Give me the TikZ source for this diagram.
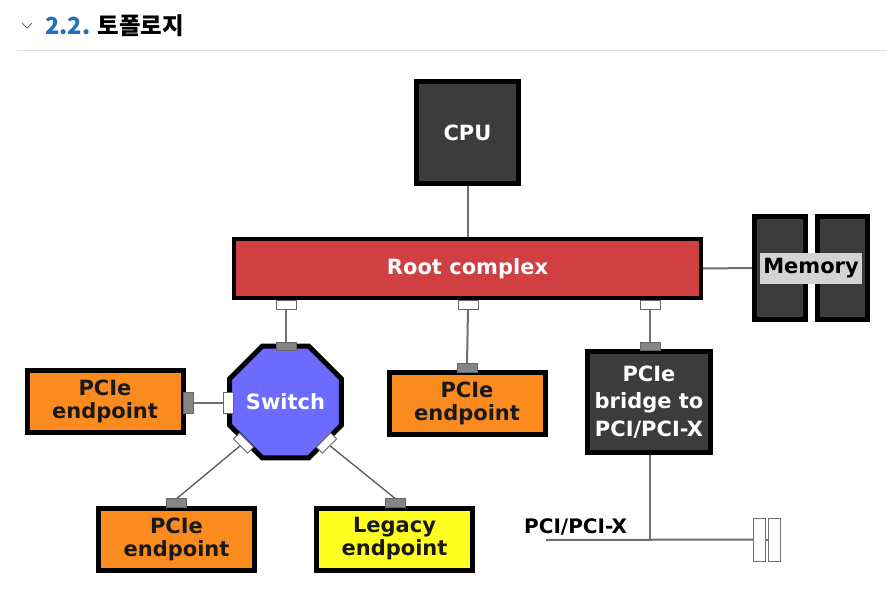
\documentclass[tikz,border=0pt]{standalone}
\usepackage{fontspec}
\setmainfont{DejaVu Sans}
\newfontfamily\kr{Noto Sans CJK KR}
\usetikzlibrary{shapes.geometric,backgrounds}
\definecolor{darkc}{HTML}{3C3C3C}
\definecolor{redc}{HTML}{D04043}
\definecolor{bluec}{HTML}{6B6BFF}
\definecolor{orangec}{HTML}{FB8B1E}
\definecolor{yellowc}{HTML}{FFFF22}
\definecolor{labelgray}{HTML}{D3D3D3}
\definecolor{portgray}{HTML}{858585}
\definecolor{linegray}{HTML}{707070}
\definecolor{titleblue}{HTML}{1F6FC5}
\tikzset{
  boxstyle/.style={draw=black, line width=5pt, inner sep=0pt, align=center,
    font=\bfseries\fontsize{21}{23}\selectfont},
  darkbox/.style={boxstyle, fill=darkc, text=white},
  epbox/.style={boxstyle, fill=orangec, text=black!90, minimum width=156pt, minimum height=62pt},
  portw/.style={draw=black!60, fill=white, line width=0.9pt, minimum width=20pt, minimum height=8.5pt, inner sep=0pt, outer sep=0pt},
  portg/.style={portw, fill=portgray},
  conn/.style={draw=linegray, line width=2pt},
  thinconn/.style={draw=black!65, line width=1.3pt},
}
\begin{document}
\begin{tikzpicture}[x=1pt,y=-1pt]
\useasboundingbox (0,0) rectangle (887,600);
% header
\draw[black!60, line width=1pt] (22,23) -- (27,28) -- (32,23);
\node[anchor=base west, inner sep=0pt, font=\kr\bfseries\fontsize{23.5}{27}\selectfont] (title) at (45,34) {\textcolor{titleblue}{2.2.} 토폴로지};
\draw[black!13, line width=1pt] (17,50) -- (887,50);

% main boxes
\node[darkbox, minimum width=102pt, minimum height=102pt] (cpu) at (467.5,132.5) {CPU};
\node[boxstyle, line width=4pt, fill=redc, text=white, minimum width=467pt, minimum height=59pt] (rc) at (467.5,268.5) {Root complex};
\node[darkbox, minimum width=51pt, minimum height=103pt] (m1) at (780,268) {};
\node[darkbox, minimum width=50pt, minimum height=103pt] (m2) at (842,268) {};
\node[fill=labelgray, text=black, inner sep=0pt, minimum width=102pt, minimum height=31pt, font=\bfseries\fontsize{21}{23}\selectfont] (mem) at (811,268) {Memory};

\node[regular polygon, regular polygon sides=8, draw=black, line width=5pt, fill=bluec, text=white, minimum size=110.5pt, inner sep=0pt, font=\bfseries\fontsize{21}{23}\selectfont] (sw) at (285.5,402) {Switch};

\node[epbox] (ep1) at (105,401.5) {PCIe\\endpoint};
\node[epbox] (ep2) at (467,403.5) {PCIe\\endpoint};
\node[epbox] (ep3) at (176.5,539) {PCIe\\endpoint};
\node[epbox, fill=yellowc] (leg) at (394.5,539) {Legacy\\endpoint};
\node[darkbox, minimum width=123pt, minimum height=101pt, font=\bfseries\fontsize{21}{27.5}\selectfont] (br) at (649,402) {PCIe\\bridge to\\PCI/PCI-X};

% ports
\node[portw] (rp1) at (286,305) {};
\node[portw] (rp2) at (468,305) {};
\node[portw] (rp3) at (650,305) {};
\node[portg] (swt) at (286,346.5) {};
\node[portw, minimum width=10pt, minimum height=21pt] (swl) at (228,402.5) {};
\node[portw, rotate=-45] (swdl) at (243.5,443) {};
\node[portw, rotate=45] (swdr) at (326.5,443) {};
\node[portg, minimum width=10pt, minimum height=21pt] (ep1p) at (188,402.5) {};
\node[portg] (ep2p) at (467,368) {};
\node[portg] (ep3p) at (176.5,503) {};
\node[portg] (legp) at (395.5,503) {};
\node[portg] (brp) at (650,346.5) {};

% PCI bus
\coordinate (busL) at (546,540);
\node[draw=black!55, fill=white, line width=0.8pt, minimum width=12pt, minimum height=43pt, inner sep=0pt, outer sep=0pt] (s1) at (759,539.5) {};
\node[draw=black!55, fill=white, line width=0.8pt, minimum width=12pt, minimum height=43pt, inner sep=0pt, outer sep=0pt] (s2) at (774,539.5) {};
\node[anchor=base west, inner sep=0pt, text=black, font=\bfseries\fontsize{20}{22}\selectfont] (pcil) at (524,533) {PCI/PCI-X};

\begin{pgfonlayer}{background}
\fill[white] (0,0) rectangle (887,600);
\draw[conn] (cpu.south) -- (rc.north);
\draw[conn] (rc.east) -- (m1.west);
\draw[conn] (rp1.south) -- (swt.north);
\draw[conn] (rp2.south) -- (ep2p.north);
\draw[conn] (rp3.south) -- (brp.north);
\draw[conn] (ep1p.east) -- (swl.west);
\draw[thinconn] (swdl.center) -- (ep3p.north);
\draw[thinconn] (swdr.center) -- (legp.north);
\draw[conn] (brp.south) -- (brp.south |- busL);
\draw[conn] (busL) -- (s1.west);
\draw[conn] (s1.east) -- (s2.west);
\end{pgfonlayer}
\end{tikzpicture}
\end{document}
